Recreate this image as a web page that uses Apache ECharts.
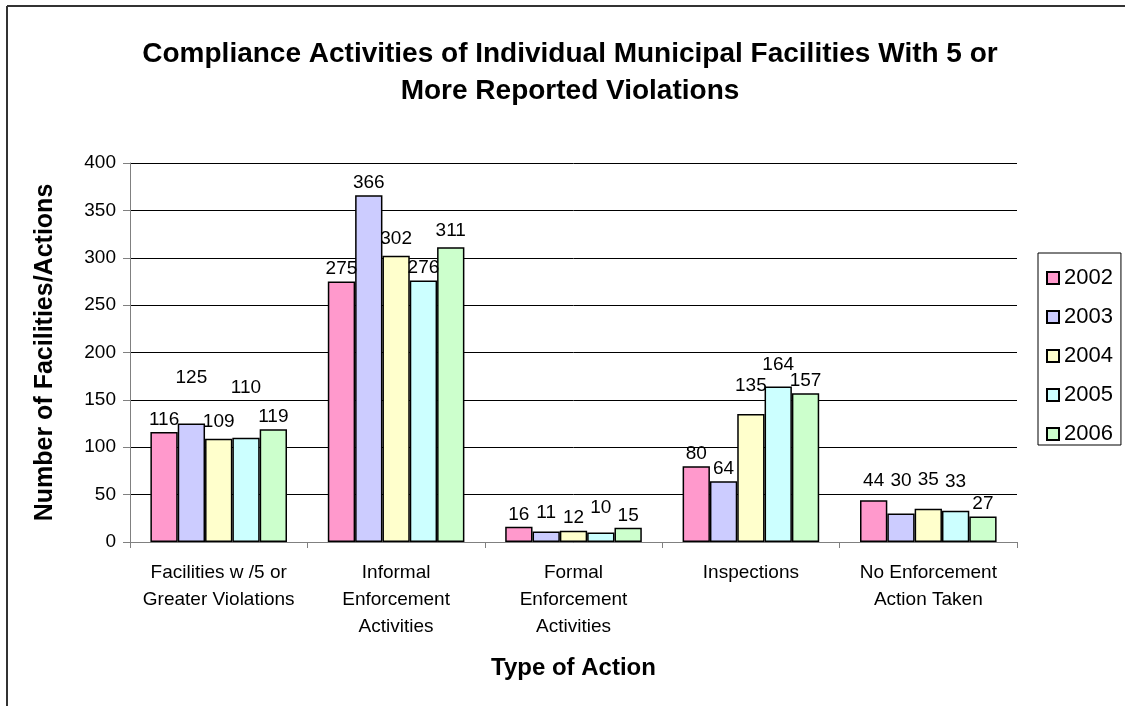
<!DOCTYPE html>
<html>
<head>
<meta charset="utf-8">
<script src="https://cdn.jsdelivr.net/npm/echarts@6/dist/echarts.min.js"></script>
<style>html,body{margin:0;padding:0;background:#fff;}#c{width:1125px;height:706px;}</style>
</head>
<body>
<div id="c"></div>
<script>
const categories = ["Facilities w /5 or\nGreater Violations", "Informal\nEnforcement\nActivities", "Formal\nEnforcement\nActivities", "Inspections", "No Enforcement\nAction Taken"];
const years = ["2002", "2003", "2004", "2005", "2006"];
const v2002 = [116, 275, 16, 80, 44];
const v2003 = [125, 366, 11, 64, 30];
const v2004 = [109, 302, 12, 135, 35];
const v2005 = [110, 276, 10, 164, 33];
const v2006 = [119, 311, 15, 157, 27];
const yTicks = [0, 50, 100, 150, 200, 250, 300, 350, 400];

// label nudges (style only): extra vertical offset per series per category
const labelNudge = [
  [0, 0, 0, 0, -7],
  [-33, 0, -6, 0, -20],
  [-4, -5, 0, -16, -17],
  [-38, 0, -12, -9, -16],
  [0, -4, 0, 0, 0]
];
const colors = ["#FF99CC", "#CCCCFF", "#FFFFCC", "#CCFFFF", "#CCFFCC"];
const seriesValues = [v2002, v2003, v2004, v2005, v2006];
const FONT = "'Liberation Sans', Arial, sans-serif";

const series = years.map((y, i) => ({
  name: y,
  type: 'bar',
  barGap: '0%',
  barCategoryGap: '23%',
  itemStyle: { color: colors[i], borderColor: '#000', borderWidth: 1.5 },
  label: { show: true, position: 'top', distance: 3, color: '#000', fontFamily: FONT, fontSize: 19 },
  data: seriesValues[i].map((v, j) => ({
    value: v,
    label: { offset: [0, labelNudge[i][j]] }
  }))
}));

const chart = echarts.init(document.getElementById('c'), null, { renderer: 'canvas' });
chart.setOption({
  animation: false,
  backgroundColor: '#fff',
  textStyle: { fontFamily: FONT },
  title: {
    text: 'Compliance Activities of Individual Municipal Facilities With 5 or\nMore Reported Violations',
    left: 565, textAlign: 'center', top: 31,
    textStyle: { fontFamily: FONT, fontSize: 28, fontWeight: 'bold', color: '#000', lineHeight: 37 }
  },
  legend: {
    orient: 'vertical', left: 1038, top: 253,
    data: years,
    itemWidth: 12, itemHeight: 12, itemGap: 17,
    icon: 'rect',
    padding: [14, 8, 0, 8],
    borderColor: '#000', borderWidth: 1,
    textStyle: { fontFamily: FONT, fontSize: 22, color: '#000', padding: [0, 0, 0, 0] }
  },
  grid: { left: 130, right: 108, top: 163, bottom: 164, containLabel: false },
  xAxis: {
    type: 'category', data: categories,
    axisLine: { lineStyle: { color: '#808080', width: 1 } },
    axisTick: { show: true, length: 6, lineStyle: { color: '#808080' } },
    axisLabel: { fontFamily: FONT, fontSize: 19, color: '#000', lineHeight: 27, margin: 17, interval: 0 },
    name: 'Type of Action', nameLocation: 'middle', nameGap: 114,
    nameTextStyle: { fontFamily: FONT, fontSize: 24, fontWeight: 'bold', color: '#000' }
  },
  yAxis: {
    type: 'value', min: yTicks[0], max: yTicks[yTicks.length - 1], interval: 50,
    axisLine: { show: true, lineStyle: { color: '#808080', width: 1 } },
    axisTick: { show: true, length: 7, lineStyle: { color: '#808080' } },
    axisLabel: { fontFamily: FONT, fontSize: 19, color: '#000', margin: 14 },
    splitLine: { show: true, lineStyle: { color: '#000', width: 1 } },
    name: 'Number of Facilities/Actions', nameLocation: 'middle', nameGap: 72,
    nameTextStyle: { fontFamily: FONT, fontSize: 25, fontWeight: 'bold', color: '#000' }
  },
  graphic: [
    { type: 'line', shape: { x1: 7, y1: 6, x2: 7, y2: 706 }, style: { stroke: '#333', lineWidth: 2 } },
    { type: 'line', shape: { x1: 7, y1: 6, x2: 1125, y2: 6 }, style: { stroke: '#333', lineWidth: 2 } }
  ],
  series: series
});
</script>
</body>
</html>
